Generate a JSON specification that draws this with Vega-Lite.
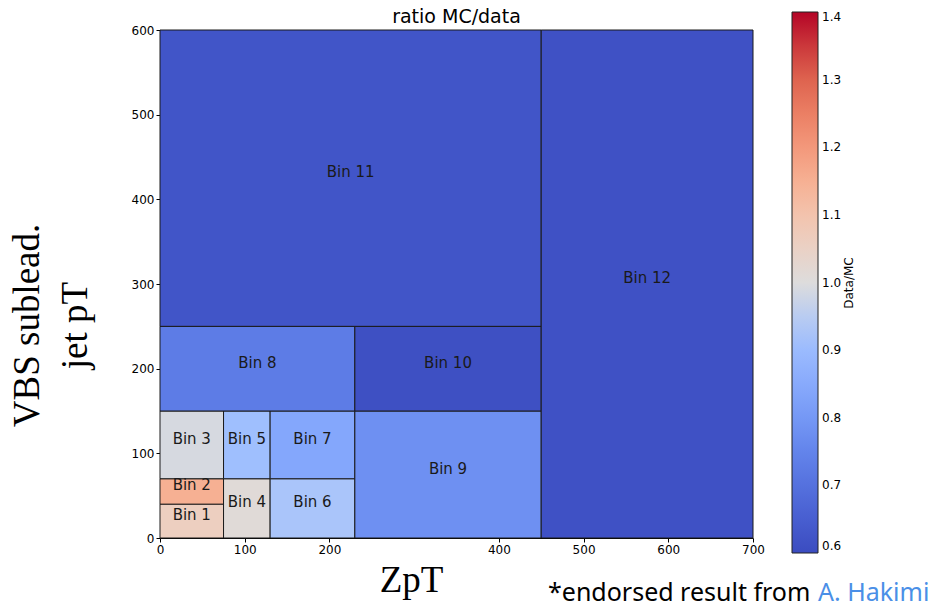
{
  "$schema": "https://vega.github.io/schema/vega-lite/v6.json",
  "width": 593,
  "height": 508,
  "autosize": {"type": "none"},
  "padding": {"left": 160, "top": 30, "right": 183, "bottom": 65},
  "background": "white",
  "title": {"text": "ratio MC/data", "font": "DejaVu Sans", "fontSize": 19, "fontWeight": "normal", "color": "black", "offset": 6, "dy": 21, "anchor": "middle", "frame": "group"},
  "config": {
    "view": {"stroke": null},
    "axis": {"grid": false, "labelFont": "DejaVu Sans", "labelFontSize": 12, "labelColor": "black", "tickColor": "black", "tickSize": 4, "domainColor": "black", "titleFont": "Liberation Serif", "titleFontSize": 37, "titleFontWeight": "normal", "titleColor": "black"}
  },
  "data": {"values": [
    {"bin": "Bin 1", "x1": 0, "x2": 75, "y1": 0, "y2": 40, "ratio": 1.06, "cx": 37.5, "cy": 20},
    {"bin": "Bin 2", "x1": 0, "x2": 75, "y1": 40, "y2": 70, "ratio": 1.15, "cx": 37.5, "cy": 55},
    {"bin": "Bin 3", "x1": 0, "x2": 75, "y1": 70, "y2": 150, "ratio": 0.99, "cx": 37.5, "cy": 110},
    {"bin": "Bin 4", "x1": 75, "x2": 130, "y1": 0, "y2": 70, "ratio": 1.01, "cx": 102.5, "cy": 35},
    {"bin": "Bin 5", "x1": 75, "x2": 130, "y1": 70, "y2": 150, "ratio": 0.91, "cx": 102.5, "cy": 110},
    {"bin": "Bin 6", "x1": 130, "x2": 230, "y1": 0, "y2": 70, "ratio": 0.93, "cx": 180, "cy": 35},
    {"bin": "Bin 7", "x1": 130, "x2": 230, "y1": 70, "y2": 150, "ratio": 0.84, "cx": 180, "cy": 110},
    {"bin": "Bin 8", "x1": 0, "x2": 230, "y1": 150, "y2": 250, "ratio": 0.73, "cx": 115, "cy": 200},
    {"bin": "Bin 9", "x1": 230, "x2": 450, "y1": 0, "y2": 150, "ratio": 0.78, "cx": 340, "cy": 75},
    {"bin": "Bin 10", "x1": 230, "x2": 450, "y1": 150, "y2": 250, "ratio": 0.61, "cx": 340, "cy": 200},
    {"bin": "Bin 11", "x1": 0, "x2": 450, "y1": 250, "y2": 600, "ratio": 0.625, "cx": 225, "cy": 425},
    {"bin": "Bin 12", "x1": 450, "x2": 700, "y1": 0, "y2": 600, "ratio": 0.615, "cx": 575, "cy": 300}
  ]},
  "layer": [
    {
      "mark": {"type": "rect", "stroke": "#1a1a1a", "strokeWidth": 1},
      "encoding": {
        "x": {"field": "x1", "type": "quantitative", "scale": {"domain": [0, 700], "nice": false},
          "axis": {"title": "ZpT", "values": [0, 100, 200, 400, 500, 600, 700], "titleX": 251, "titleY": 53, "titleBaseline": "alphabetic", "titleAlign": "center", "labelFlush": false}},
        "x2": {"field": "x2"},
        "y": {"field": "y1", "type": "quantitative", "scale": {"domain": [0, 600], "nice": false},
          "axis": {"title": ["VBS sublead.", "jet pT"], "values": [0, 100, 200, 300, 400, 500, 600], "titleX": -133, "titleY": 295, "titleAlign": "center", "titleBaseline": "middle", "titleAngle": -90, "titleLineHeight": 48}},
        "y2": {"field": "y2"},
        "color": {"field": "ratio", "type": "quantitative",
          "scale": {"type": "linear", "interpolate": "rgb", "domain": [0.6, 0.68, 0.76, 0.84, 0.92, 1.0, 1.08, 1.16, 1.24, 1.32, 1.4],
            "range": ["#3b4cc0", "#4f69d9", "#6688ee", "#84a7fc", "#a3c2fe", "#dddcdc", "#f2cbb7", "#f7ac8e", "#ee8468", "#d95847", "#b40426"]},
          "legend": {"title": "Data/MC", "orient": "none", "legendX": 632, "legendY": -18, "direction": "vertical",
            "gradientLength": 541, "gradientThickness": 26, "gradientStrokeColor": "#222", "gradientStrokeWidth": 1,
            "values": [0.6, 0.7, 0.8, 0.9, 1.0, 1.1, 1.2, 1.3, 1.4], "format": ".1f",
            "labelFont": "DejaVu Sans", "labelFontSize": 12, "labelColor": "black", "labelOffset": 4,
            "titleFont": "DejaVu Sans", "titleFontSize": 12, "titleFontWeight": "normal", "titleColor": "black",
            "titleOrient": "right", "titlePadding": 15,
            "encode": {"title": {"update": {"angle": {"value": -90}}}}}}
      }
    },
    {
      "mark": {"type": "text", "font": "DejaVu Sans", "fontSize": 15, "dy": -6},
      "encoding": {
        "x": {"field": "cx", "type": "quantitative"},
        "y": {"field": "cy", "type": "quantitative"},
        "text": {"field": "bin"},
        "color": {"datum": "A. Hakimi", "type": "nominal", "scale": {"range": ["#1a1a1a"]},
          "legend": {"title": "*endorsed result from", "orient": "none", "legendX": 388, "legendY": 550, "direction": "horizontal",
            "titleOrient": "left", "titleFont": "Noto Sans", "titleFontSize": 25, "titleFontWeight": "normal", "titleColor": "black", "titlePadding": 0,
            "labelFont": "Noto Sans", "labelFontSize": 25, "labelColor": "#4a8fe7", "labelOffset": -18, "padding": 0,
            "symbolSize": 0, "symbolOpacity": 0, "symbolStrokeWidth": 0, "labelLimit": 300, "titleLimit": 400}}
      }
    }
  ],
  "resolve": {"scale": {"color": "independent"}}
}
